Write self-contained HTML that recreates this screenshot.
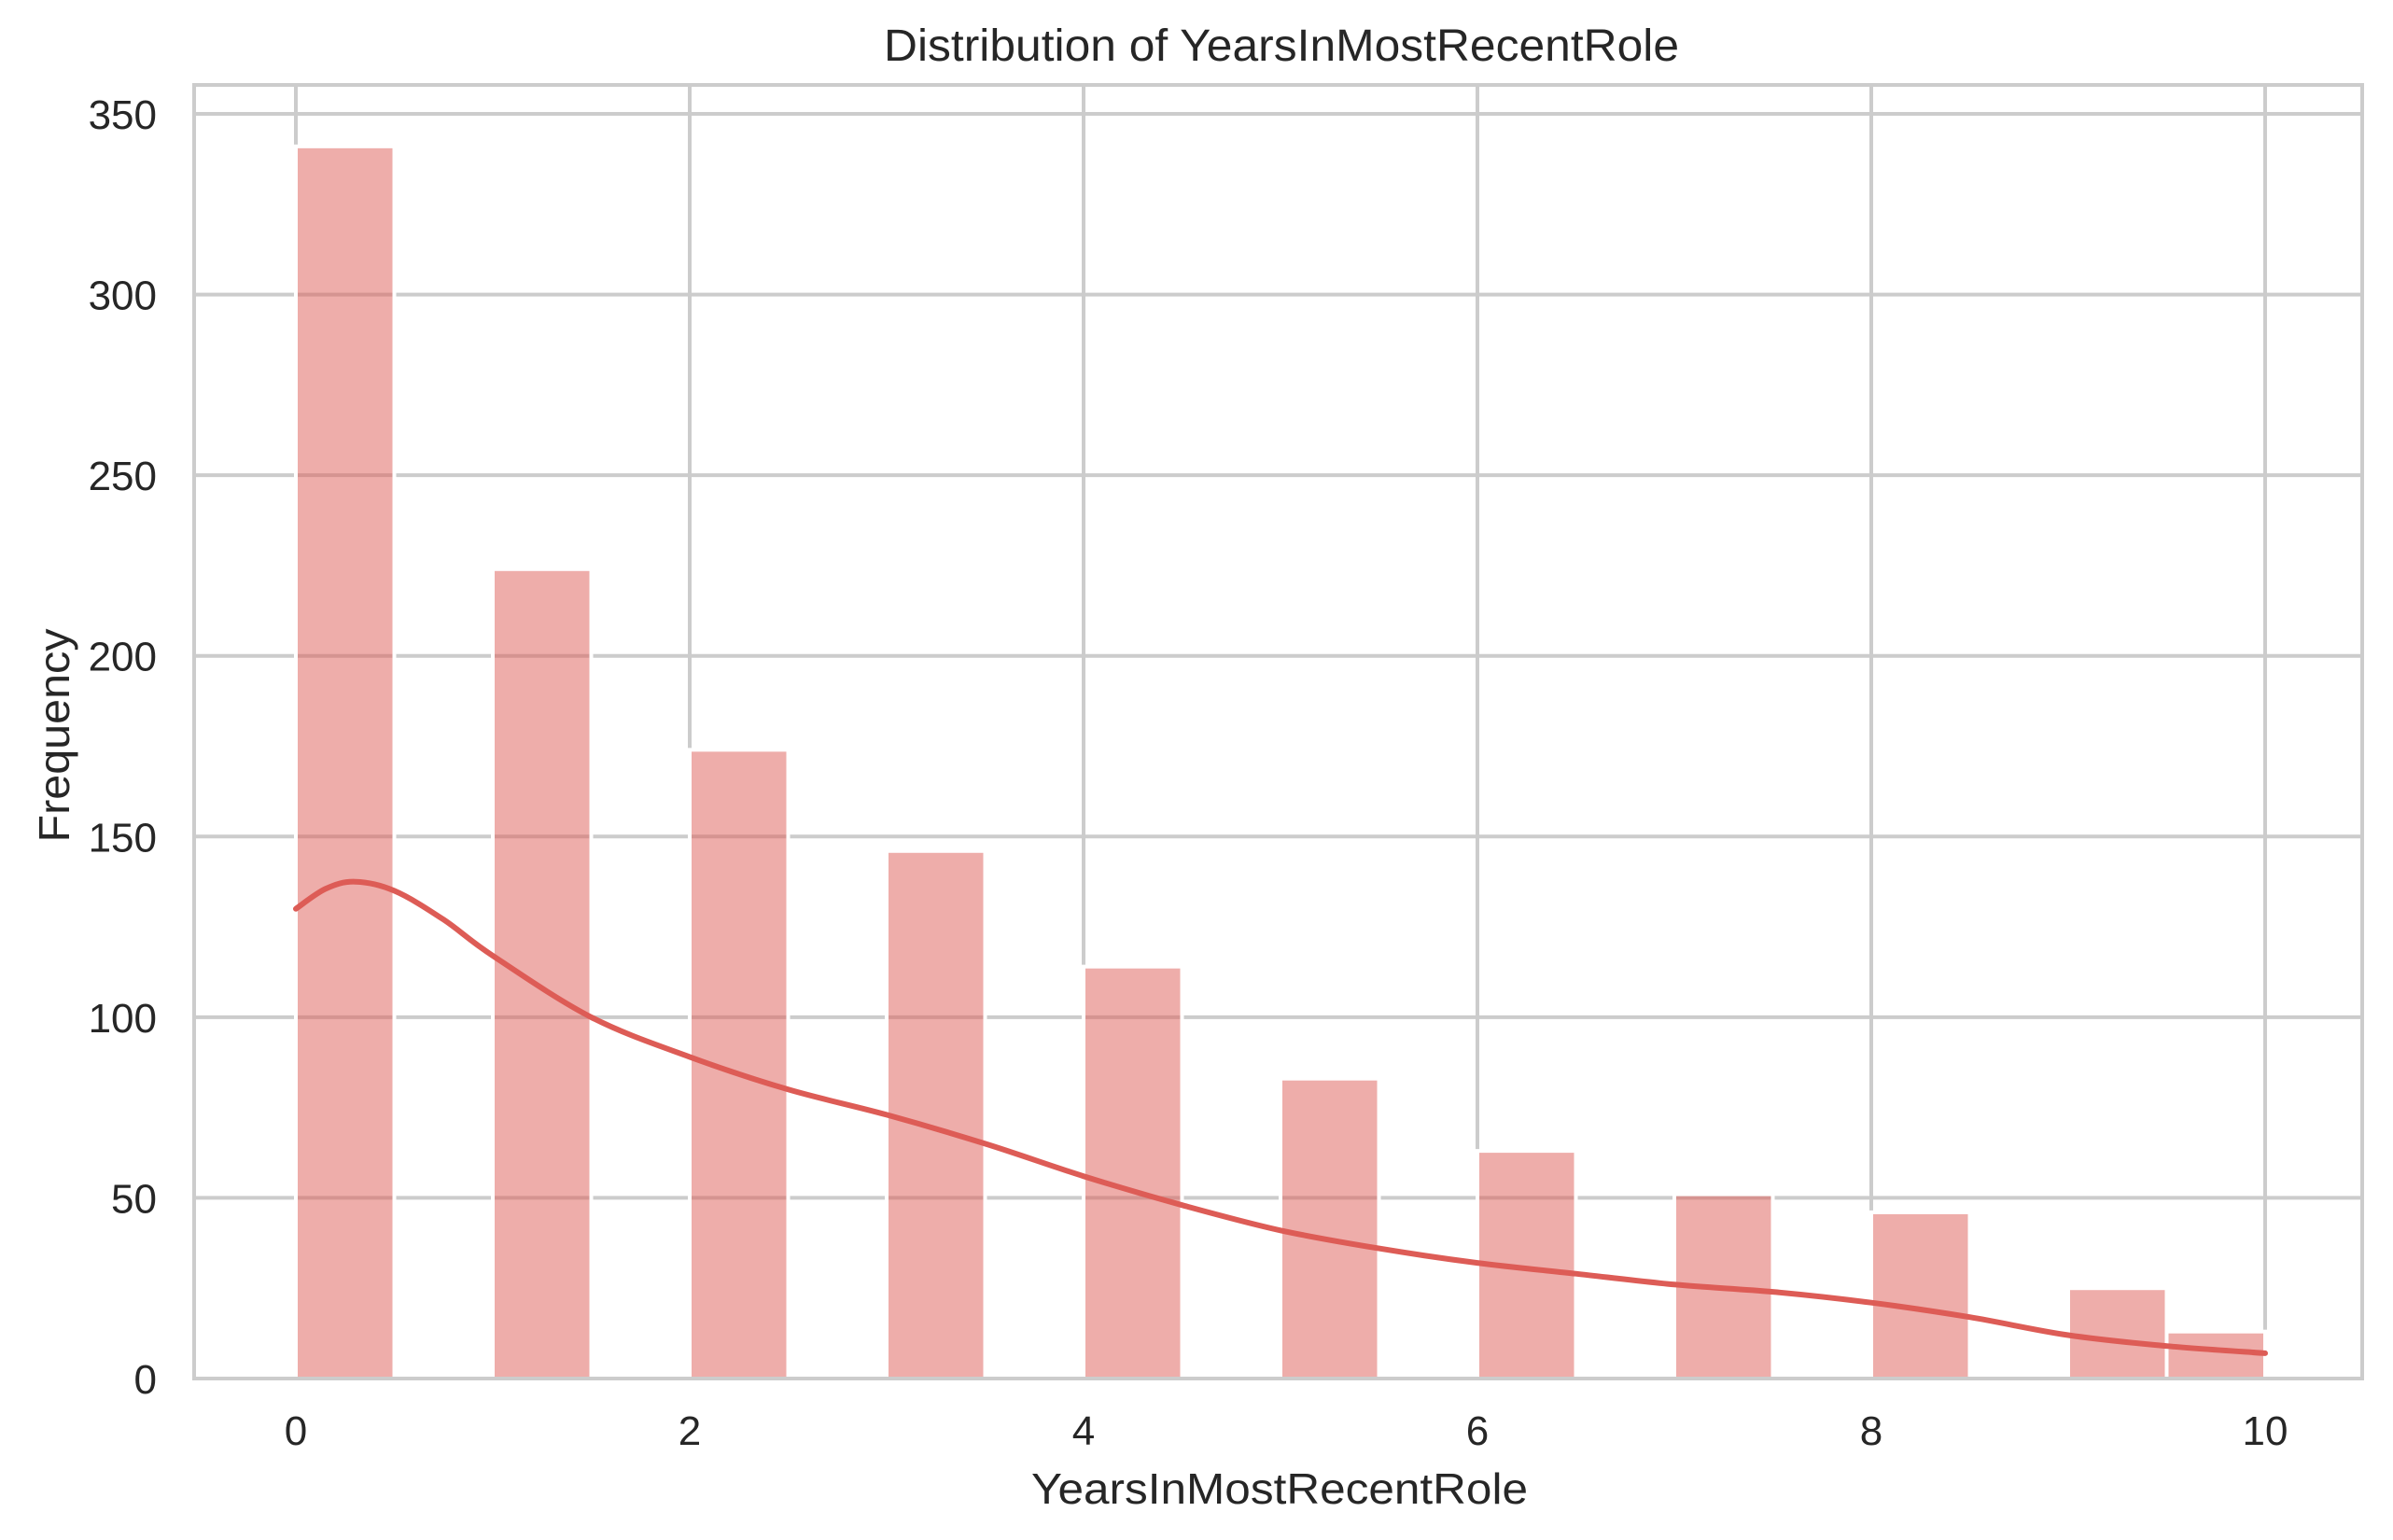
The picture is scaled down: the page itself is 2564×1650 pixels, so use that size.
<!DOCTYPE html>
<html><head><meta charset="utf-8"><title>Distribution of YearsInMostRecentRole</title>
<style>html,body{margin:0;padding:0;background:#fff}svg{display:block}text{font-family:"Liberation Sans",Arial,sans-serif;fill:#262626}</style></head>
<body>
<svg id="chart" width="2564" height="1650" viewBox="0 0 2564 1650" xmlns="http://www.w3.org/2000/svg">
<g id="grid"></g>
<g id="bars"></g>
<g id="kde"></g>
<g id="spines"></g>
<g id="xticks"></g>
<g id="yticks"></g>
<text x="1373" y="65" text-anchor="middle" font-size="48" textLength="852" lengthAdjust="spacingAndGlyphs">Distribution of YearsInMostRecentRole</text>
<text x="1371" y="1611" text-anchor="middle" font-size="46" textLength="532" lengthAdjust="spacingAndGlyphs">YearsInMostRecentRole</text>
<text transform="translate(74,788) rotate(-90)" text-anchor="middle" font-size="46" textLength="229" lengthAdjust="spacingAndGlyphs">Frequency</text>
</svg>
<script>
const binStarts = [0, 1, 2, 3, 4, 5, 6, 7, 8, 9, 9.5];
const binWidth = 0.5;
const counts = [341, 224, 174, 146, 114, 83, 63, 51, 46, 25, 13];
const kdeX = [0, 0.15, 0.3, 0.5, 0.75, 1, 1.5, 2, 2.5, 3, 3.5, 4, 4.5, 5, 5.5, 6, 6.5, 7, 7.5, 8, 8.5, 9, 9.5, 10];
const kdeY = [130, 135.5, 137.5, 135, 127, 117, 100, 89, 80, 73, 65, 56, 48, 41, 36, 32, 29, 26, 24, 21, 17, 12, 9, 7];
const xTicks = [0, 2, 4, 6, 8, 10];
const yTicks = [0, 50, 100, 150, 200, 250, 300, 350];

const NS = "http://www.w3.org/2000/svg";
const L = 208, R = 2531, T = 91, B = 1477;
const X0 = 317, XU = 211;
const YU = (1477 - 122) / 350;
function sx(v){ return X0 + v * XU; }
function sy(v){ return B - v * YU; }
function mk(tag, attrs, parent){ const e = document.createElementNS(NS, tag); for (const k in attrs) e.setAttribute(k, attrs[k]); parent.appendChild(e); return e; }

const grid = document.getElementById('grid');
xTicks.forEach(function(t){
  const l = mk('line', {x1:sx(t), x2:sx(t), y1:T, y2:B, stroke:'#cccccc', 'stroke-width':4}, grid);
  
  
});
yTicks.forEach(function(t){
  const l = mk('line', {x1:L, x2:R, y1:sy(t), y2:sy(t), stroke:'#cccccc', 'stroke-width':4}, grid);
  
  
});

const bars = document.getElementById('bars');
counts.forEach(function(c, i){
  const x1 = sx(binStarts[i]), x2 = sx(binStarts[i] + binWidth);
  const r = mk('rect', {x:x1, y:sy(c), width:x2 - x1, height:B - sy(c), fill:'#dd5c56', 'fill-opacity':0.5, stroke:'#ffffff', 'stroke-width':4}, bars);
  
  
});

const kde = document.getElementById('kde');
const pts = kdeX.map(function(x, i){ return [sx(x), sy(kdeY[i])]; });
let d = 'M' + pts[0][0].toFixed(1) + ',' + pts[0][1].toFixed(1);
for (let i = 0; i < pts.length - 1; i++) {
  const p0 = pts[Math.max(0, i - 1)], p1 = pts[i], p2 = pts[i + 1], p3 = pts[Math.min(pts.length - 1, i + 2)];
  const c1x = p1[0] + (p2[0] - p0[0]) / 6, c1y = p1[1] + (p2[1] - p0[1]) / 6;
  const c2x = p2[0] - (p3[0] - p1[0]) / 6, c2y = p2[1] - (p3[1] - p1[1]) / 6;
  d += ' C' + c1x.toFixed(1) + ',' + c1y.toFixed(1) + ' ' + c2x.toFixed(1) + ',' + c2y.toFixed(1) + ' ' + p2[0].toFixed(1) + ',' + p2[1].toFixed(1);
}
const p = mk('path', {d:d, fill:'none', stroke:'#dd5c56', 'stroke-width':6, 'stroke-linejoin':'round', 'stroke-linecap':'round'}, kde);



const sp = document.getElementById('spines');
const fr = mk('rect', {x:L, y:T, width:R - L, height:B - T, fill:'none', stroke:'#cccccc', 'stroke-width':4}, sp);



const xt = document.getElementById('xticks');
xTicks.forEach(function(t){
  const e = mk('text', {x:sx(t), y:1548, 'text-anchor':'middle', 'font-size':44}, xt);
  e.textContent = String(t);
  
  
});
const yt = document.getElementById('yticks');
yTicks.forEach(function(t){
  const e = mk('text', {x:168, y:sy(t) + 16, 'text-anchor':'end', 'font-size':44}, yt);
  e.textContent = String(t);
  
  
});
</script>
</body></html>
